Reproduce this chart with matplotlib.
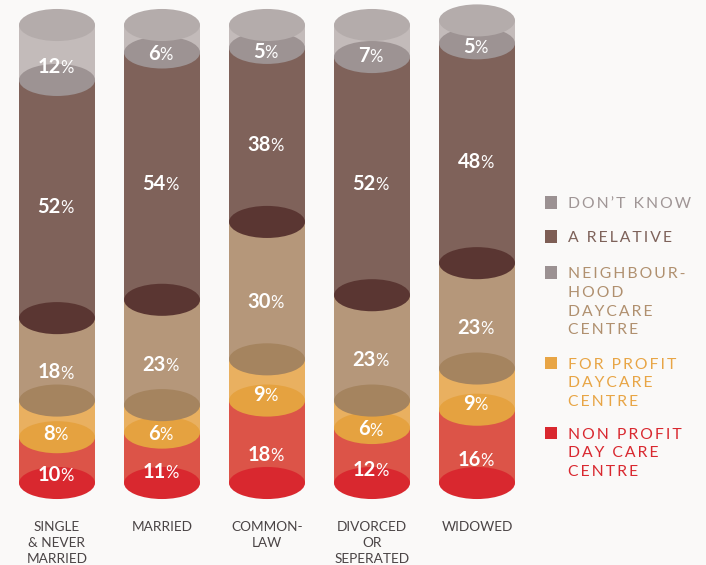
import matplotlib.pyplot as plt
from matplotlib.patches import Rectangle, Ellipse
import numpy as np

plt.rcParams['font.family'] = ['Lato', 'DejaVu Sans']

# data (percent), bottom to top
categories = ['SINGLE\n& NEVER\nMARRIED', 'MARRIED', 'COMMON-\nLAW',
              'DIVORCED\nOR\nSEPERATED', 'WIDOWED']
non_profit = [10, 11, 18, 12, 16]
for_profit = [8, 6, 9, 6, 9]
neighbourhood = [18, 23, 30, 23, 23]
relative = [52, 54, 38, 52, 48]
dont_know = [12, 6, 5, 7, 5]

series = [non_profit, for_profit, neighbourhood, relative, dont_know]
# (body colour, bottom ellipse colour)
colours = [('#dc5448', '#d9282f'),
           ('#e9b060', '#e5a240'),
           ('#b5977a', '#a5845f'),
           ('#7f625a', '#5a3632'),
           ('#c3bbba', '#9d9393')]
cap_colour = '#b4acab'

legend_labels = ['DON\u2019T KNOW', 'A RELATIVE', 'NEIGHBOUR-\nHOOD\nDAYCARE\nCENTRE',
                 'FOR PROFIT\nDAYCARE\nCENTRE', 'NON PROFIT\nDAY CARE\nCENTRE']
legend_squares = ['#9b9192', '#7e5e55', '#9b9192', '#e8a545', '#d9282f']
legend_text = ['#a09696', '#7e625a', '#b0906f', '#e8a545', '#d9282f']

bg = '#faf9f8'
fig = plt.figure(figsize=(7.06, 5.65), dpi=100, facecolor=bg)
ax = fig.add_axes([0, 0, 1, 1])
ax.set_facecolor(bg)
# x: 1 unit = 105 px, first centre at 57 px; y: 1% = 4.58 px, 0% at 483 px from top
ax.set_xlim(-57 / 105, (706 - 57) / 105)
ax.set_ylim(-(565 - 483) / 4.58, 100 + 25 / 4.58)
ax.axis('off')

w = 0.724   # cylinder width
eh = 7.0    # ellipse height in data units


def spaced(s):
    return '\u2009'.join(s)


for i in range(len(categories)):
    base = 0
    for k, vals in enumerate(series):
        v = vals[i]
        body, dark = colours[k]
        ax.add_patch(Rectangle((i - w / 2, base), w, v, facecolor=body, edgecolor='none', zorder=2 + k))
        ax.add_patch(Ellipse((i, base), w, eh, facecolor=dark, edgecolor='none', zorder=2.5 + k))
        ty = base + v / 2 - eh / 2 * (1 - v / 100)
        t = ax.text(i - 0.075, ty, str(v), ha='center', va='center', color='white',
                    fontsize=14.5, fontweight='bold', zorder=20)
        ax.annotate('%', xy=(1, 0), xycoords=t, xytext=(-0.3, 0.6), textcoords='offset points',
                    ha='left', va='bottom', color='white', fontsize=12, zorder=20)
        base += v
    ax.add_patch(Ellipse((i, base), w, eh, facecolor=cap_colour, edgecolor='none', zorder=10))
    ax.text(i, -8.4, categories[i], ha='center', va='top', color='#4a4445',
            fontsize=9.8, linespacing=1.36)

# legend
ly = [61.2, 53.8, 45.9, 26.2, 10.9]
for j in range(len(legend_labels)):
    x0 = 4.648
    ax.add_patch(Rectangle((x0, ly[j] - 1.4), 0.114, 2.8, facecolor=legend_squares[j],
                           edgecolor='none'))
    lines = '\n'.join(spaced(s) for s in legend_labels[j].split('\n'))
    ax.text(x0 + 0.215, ly[j] + 1.2, lines, ha='left', va='top', color=legend_text[j],
            fontsize=11.3, linespacing=1.42)

fig.savefig('out.png', dpi=100, facecolor=bg)
